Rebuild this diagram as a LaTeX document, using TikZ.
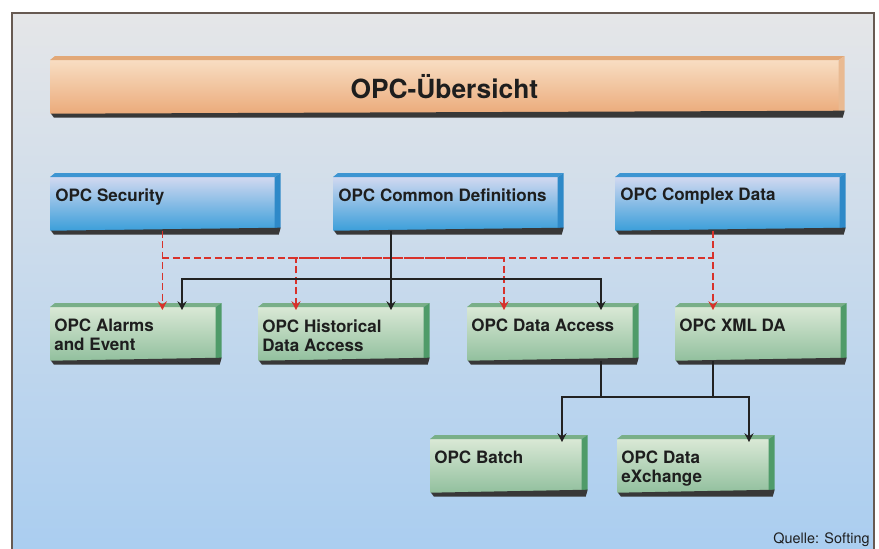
\documentclass[tikz,border=0pt]{standalone}
\usepackage{fontspec}
\setmainfont{TeX Gyre Heros}
\usetikzlibrary{calc,arrows.meta,positioning}

\definecolor{bgtop}{HTML}{E5E6E8}
\definecolor{bgmid}{HTML}{CCDDEE}
\definecolor{bgbot}{HTML}{A9CDF0}
\definecolor{framecol}{HTML}{675A52}
\definecolor{textcol}{HTML}{1E1E1E}
\definecolor{titletop}{HTML}{F8DDC2}
\definecolor{titlemid}{HTML}{F3C59C}
\definecolor{titlebot}{HTML}{EBAB7B}
\definecolor{titlebev}{HTML}{E2A878}
\definecolor{titleside}{HTML}{E9BA92}
\definecolor{bluetop}{HTML}{D0D8F0}
\definecolor{bluebot}{HTML}{3C9FDA}
\definecolor{bluebev}{HTML}{3D95D2}
\definecolor{blueside}{HTML}{2E89C8}
\definecolor{greentop}{HTML}{D9E8D5}
\definecolor{greenbot}{HTML}{92C09E}
\definecolor{greenbev}{HTML}{79AF88}
\definecolor{greenside}{HTML}{4F9B69}
\definecolor{shadowcol}{HTML}{383838}
\definecolor{linecol}{HTML}{222222}
\definecolor{dashred}{HTML}{D8322B}

\newdimen\pxu
\pxu=0.02cm

\begin{document}
\begin{tikzpicture}[x=0.02cm, y=-0.02cm,
    face/.style={rectangle, inner sep=0pt, anchor=north west, minimum height=53\pxu},
    titlebox/.style={face, minimum width=788\pxu, top color=titletop, middle color=titlemid,
      bottom color=titlebot, text=textcol, font=\fontsize{15}{18}\selectfont\bfseries},
    bluebox/.style={face, minimum width=224\pxu, top color=bluetop, bottom color=bluebot},
    greenbox/.style={face, minimum width=165\pxu, top color=greentop, bottom color=greenbot},
    lowbox/.style={greenbox, minimum width=151\pxu},
    boxtext/.style={anchor=north west, inner sep=0pt, align=left, text=textcol,
      font=\fontsize{9.7}{10.8}\selectfont\bfseries},
    link/.style={draw=linecol, line width=1.3\pxu},
    reddash/.style={draw=dashred, line width=1.6\pxu, dash pattern=on 7\pxu off 3.5\pxu},
    tip/.style={-{Stealth[length=5pt,width=5.2pt,inset=1.8pt]}, shorten >=-3\pxu},
    tips2/.style={{Stealth[length=5pt,width=5.2pt,inset=1.8pt]}-{Stealth[length=5pt,width=5.2pt,inset=1.8pt]},
      shorten >=-3\pxu, shorten <=-3\pxu},
  ]

  \fill[white] (0,0) rectangle (879,548);
  \useasboundingbox (0,0) rectangle (879,548);

  % background and frame
  \shade[top color=bgtop, middle color=bgmid, bottom color=bgbot] (12,13) rectangle (874,560);
  \draw[framecol, line width=1.5\pxu] (12,560) -- (12,13) -- (874,13) -- (874,560);

  % boxes
  \node[titlebox] (ttl) at (50,60) {OPC-Übersicht};

  \node[bluebox] (sec) at (50,177) {};
  \node[bluebox] (com) at (333,177) {};
  \node[bluebox] (cpx) at (615,177) {};

  \node[greenbox] (alm) at (50,307) {};
  \node[greenbox] (hda) at (258,307) {};
  \node[greenbox] (da)  at (467,307) {};
  \node[greenbox] (xml) at (675,307) {};

  \node[lowbox] (bat) at (430,439) {};
  \node[lowbox] (dx)  at (617,439) {};

  % bevel, side and shadow
  \foreach \n/\bev/\sid in {ttl/titlebev/titleside, sec/bluebev/blueside, com/bluebev/blueside,
      cpx/bluebev/blueside, alm/greenbev/greenside, hda/greenbev/greenside, da/greenbev/greenside,
      xml/greenbev/greenside, bat/greenbev/greenside, dx/greenbev/greenside}{
    \fill[\bev] (\n.north west) -- ($(\n.north west)+(5,-4)$) -- ($(\n.north east)+(6,-4)$) -- (\n.north east) -- cycle;
    \fill[\sid] (\n.north east) -- ($(\n.north east)+(6,-4)$) -- ($(\n.south east)+(6,-3)$) -- (\n.south east) -- cycle;
    \fill[shadowcol] ($(\n.south west)+(1,0)$) -- ($(\n.south east)+(6,-3)$) -- ($(\n.south east)+(4,4)$)
      -- ($(\n.south west)+(4,4)$) -- cycle;
  }

  % labels
  \node[boxtext] (secT) at ($(sec.north west)+(5,11)$) {OPC Security};
  \node[boxtext] (comT) at ($(com.north west)+(5,11)$) {OPC Common Definitions};
  \node[boxtext] (cpxT) at ($(cpx.north west)+(5,11)$) {OPC Complex Data};
  \node[boxtext] (almT) at ($(alm.north west)+(4,12)$) {OPC Alarms\\and Event};
  \node[boxtext] (hdaT) at ($(hda.north west)+(4,12)$) {OPC Historical\\Data Access};
  \node[boxtext] (daT)  at ($(da.north west)+(4,12)$) {OPC Data Access};
  \node[boxtext] (xmlT) at ($(xml.north west)+(4,12)$) {OPC XML DA};
  \node[boxtext] (batT) at ($(bat.north west)+(4,12)$) {OPC Batch};
  \node[boxtext] (dxT)  at ($(dx.north west)+(4,12)$) {OPC Data\\eXchange};

  \node[anchor=north east, inner sep=0pt, text=textcol, font=\fontsize{8.2}{10}\selectfont]
    (src) at (870,532) {Quelle: Softing};

  % ports and buses
  \coordinate (redbus) at (0,258);
  \coordinate (blkbus) at (0,279);
  \coordinate (lowbus) at (0,397);
  \coordinate (hdaR) at ($(hda.north west)+(38,0)$);
  \coordinate (daR)  at ($(da.north west)+(37,0)$);
  \coordinate (xmlR) at ($(xml.north west)+(38,0)$);
  \coordinate (comB) at ($(com.south west)+(58,0)$);
  \coordinate (almB) at ($(alm.north west)+(132,0)$);
  \coordinate (daB)  at ($(da.north west)+(134,0)$);
  \coordinate (batB) at ($(bat.north west)+(132,0)$);
  \coordinate (dxB)  at ($(dx.north west)+(132,0)$);

  % red dashed
  \draw[reddash] (sec.south |- redbus) -- (xmlR |- redbus);
  \draw[reddash,tip] (sec.south) -- (sec.south |- alm.north);
  \draw[reddash,tip] (xmlR |- cpx.south) -- (xmlR);
  \draw[reddash,tips2] (hdaR) |- (redbus -| daR) -- (daR);

  % black
  \draw[link,tip] (comB) -- (comB |- hda.north);
  \draw[link,tips2] (almB) |- (blkbus -| daB) -- (daB);
  \draw[link] (daB |- da.south) -- (daB |- lowbus);
  \draw[link] (xmlR |- xml.south) -- (xmlR |- lowbus);
  \draw[link,tips2] (batB) |- (lowbus -| dxB) -- (dxB);

\end{tikzpicture}
\end{document}
